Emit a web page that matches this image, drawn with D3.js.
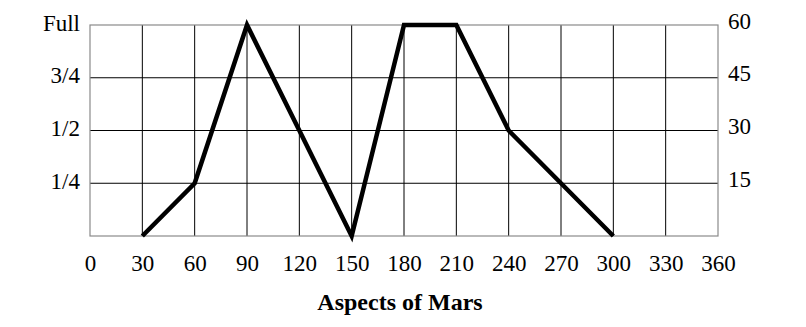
<!DOCTYPE html>
<html>
<head>
<meta charset="utf-8">
<script src="https://cdn.jsdelivr.net/npm/d3@7"></script>
<style>
  body { margin: 0; background: #fff; }
  text { font-family: "Liberation Serif", "DejaVu Serif", serif; fill: #000; }
</style>
</head>
<body>
<div id="graph"></div>
<script>
// data
let aspects = [30, 60, 90, 120, 150, 180, 210, 240, 270, 300];
let amounts = [0, 15, 60, 30, 0, 60, 60, 30, 15, 0];
let xTicks = [0, 30, 60, 90, 120, 150, 180, 210, 240, 270, 300, 330, 360];
let leftTicks = [15, 30, 45, 60];
let leftLabels = ["1/4", "1/2", "3/4", "Full"];
let rightTicks = [15, 30, 45, 60];

// plot box
let margin = { top: 25, right: 88, bottom: 91, left: 90 },
  width = 806 - margin.left - margin.right,
  height = 327 - margin.top - margin.bottom;

let svg = d3
  .select("#graph")
  .append("svg")
  .attr("width", 806)
  .attr("height", 327)
  .append("g")
  .attr("transform", "translate(" + margin.left + "," + margin.top + ")");

let x = d3.scaleLinear().domain([0, 360]).range([0, width]);
let y = d3.scaleLinear().domain([0, 60]).range([height, 0]);

// grid lines
svg
  .selectAll(".vgrid")
  .data(xTicks.slice(1, -1))
  .enter()
  .append("line")
  .attr("x1", (d) => x(d))
  .attr("x2", (d) => x(d))
  .attr("y1", 0)
  .attr("y2", height)
  .attr("stroke", "#000")
  .attr("stroke-width", 1);

svg
  .selectAll(".hgrid")
  .data(leftTicks.slice(0, -1))
  .enter()
  .append("line")
  .attr("x1", 0)
  .attr("x2", width)
  .attr("y1", (d) => y(d))
  .attr("y2", (d) => y(d))
  .attr("stroke", "#000")
  .attr("stroke-width", 1);

// outer box is grey
svg
  .append("rect")
  .attr("x", 0)
  .attr("y", 0)
  .attr("width", width)
  .attr("height", height)
  .attr("fill", "none")
  .attr("stroke", "#8a8a8a")
  .attr("stroke-width", 1.2);

// axes, text only
let xAxis = svg
  .append("g")
  .attr("id", "xAxis")
  .attr("transform", "translate(0," + height + ")")
  .call(d3.axisBottom(x).tickValues(xTicks).tickSize(0));

let yLeft = svg
  .append("g")
  .call(
    d3
      .axisLeft(y)
      .tickValues(leftTicks)
      .tickSize(0)
      .tickPadding(10)
      .tickFormat((d, i) => leftLabels[i])
  );

let yRight = svg
  .append("g")
  .attr("transform", "translate(" + width + ",0)")
  .call(d3.axisRight(y).tickValues(rightTicks).tickSize(0).tickPadding(10));

svg.selectAll(".domain").remove();
svg
  .selectAll(".tick text")
  .style("font-family", '"Liberation Serif", serif')
  .style("font-size", "23px")
  .attr("fill", "#000");
// baselines a little below the lines, like the original
xAxis.selectAll(".tick text").attr("y", 35).attr("dy", 0);
yLeft.selectAll(".tick text").attr("y", 5).attr("dy", 0);
yRight.selectAll(".tick text").attr("y", 3).attr("dy", 0);

// the phase line
let line = d3
  .line()
  .x((d, i) => x(aspects[i]))
  .y((d) => y(d));

svg
  .append("path")
  .datum(amounts)
  .attr("d", line)
  .attr("fill", "none")
  .attr("stroke", "#000")
  .attr("stroke-width", 4.5)
  .attr("stroke-linejoin", "miter");

// axis title
svg
  .append("text")
  .attr("x", width / 2 - 4)
  .attr("y", height + 74)
  .attr("text-anchor", "middle")
  .style("font-size", "24px")
  .style("font-weight", "bold")
  .text("Aspects of Mars");
</script>
</body>
</html>
